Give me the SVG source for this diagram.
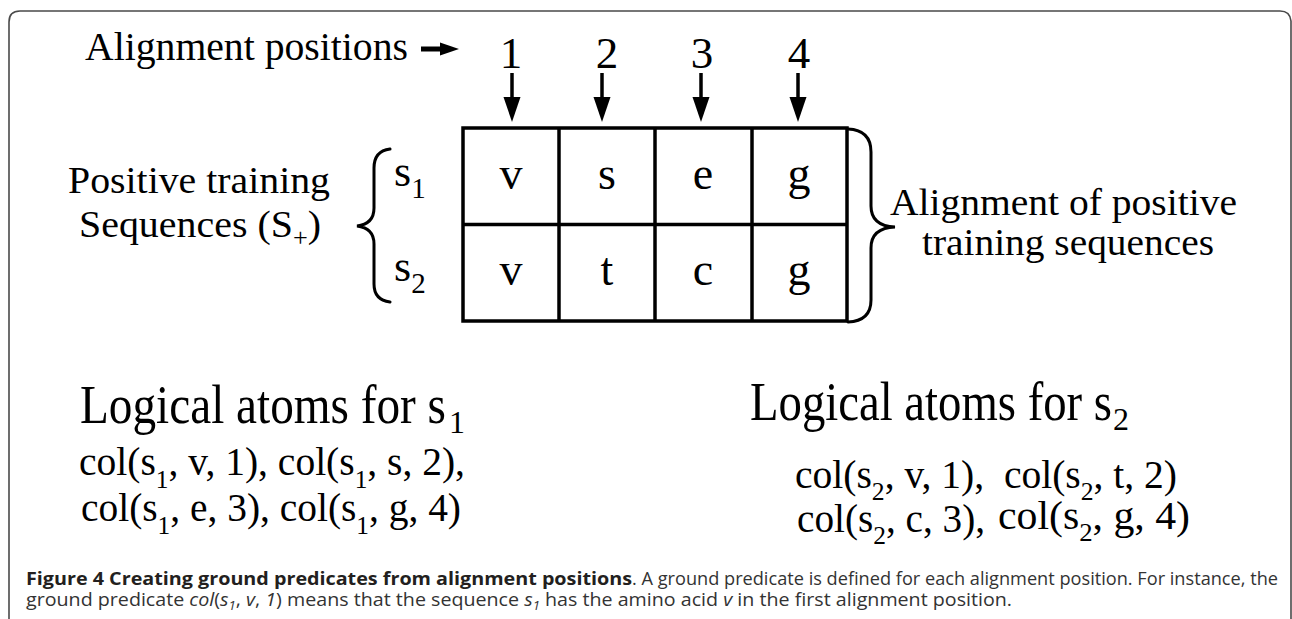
<svg xmlns="http://www.w3.org/2000/svg" width="1292" height="619" viewBox="0 0 1292 619">
<style>
.t{font-family:"Liberation Serif","Times New Roman",serif;fill:#000}
.c{font-family:"Open Sans","Liberation Sans",sans-serif;fill:#333}
.b{font-weight:bold;fill:#231f20}
.ln{stroke:#000;stroke-width:3.5;fill:none}
.br{stroke:#000;stroke-width:3;fill:none;stroke-linecap:round}
</style>
<rect width="1292" height="619" fill="#fff"/>
<path d="M9,619 L9,22 Q9,11 20,11 L1280,11 Q1290,11 1291,21 L1291,619" fill="none" stroke="#4a4a4a" stroke-width="1.6"/>

<g id="title">
<text class="t" x="85" y="60" font-size="40" textLength="323" lengthAdjust="spacingAndGlyphs">Alignment positions</text>
</g>
<g id="positions" class="t" font-size="45" text-anchor="middle">
<text x="511" y="68">1</text>
<text x="607" y="68">2</text>
<text x="702" y="68">3</text>
<text x="799" y="68">4</text>
</g>

<g id="grid">
<rect x="463" y="128" width="384" height="193" class="ln"/>
<line x1="559" y1="128" x2="559" y2="321" class="ln"/>
<line x1="655" y1="128" x2="655" y2="321" class="ln"/>
<line x1="752" y1="128" x2="752" y2="321" class="ln"/>
<line x1="463" y1="224.5" x2="847" y2="224.5" class="ln"/>
<g class="t" font-size="46" text-anchor="middle">
<text x="511" y="189">v</text>
<text x="607" y="189">s</text>
<text x="703" y="189">e</text>
<text x="799" y="189">g</text>
<text x="511" y="285">v</text>
<text x="607" y="285">t</text>
<text x="703" y="285">c</text>
<text x="799" y="285">g</text>
</g>
</g>

<g id="sequences">
<text class="t" x="68" y="193" font-size="38" textLength="262" lengthAdjust="spacingAndGlyphs">Positive training</text>
<text class="t" x="79" y="237" font-size="38" textLength="242" lengthAdjust="spacingAndGlyphs">Sequences (S<tspan font-size="25" dy="9">+</tspan><tspan dy="-9">)</tspan></text>
<path class="br" d="M390,149 Q374,151 374,168 L374,208 Q374,224 357,226 Q374,228 374,244 L374,284 Q374,300 390,302"/>
<text class="t" x="394" y="186" font-size="44">s<tspan font-size="29" dy="12">1</tspan></text>
<text class="t" x="394" y="281" font-size="44">s<tspan font-size="29" dy="12">2</tspan></text>
</g>

<g id="alignment">
<path class="br" d="M848,129 Q871,130 871,152 L871,206 Q871,226 895,227 Q871,228 871,248 L871,300 Q871,321 848,322"/>
<text class="t" x="890" y="215" font-size="38" textLength="347" lengthAdjust="spacingAndGlyphs">Alignment of positive</text>
<text class="t" x="922" y="255" font-size="38" textLength="292" lengthAdjust="spacingAndGlyphs">training sequences</text>
</g>

<g id="atoms-s1">
<text class="t" x="80" y="423" font-size="54" textLength="366" lengthAdjust="spacingAndGlyphs">Logical atoms for s</text>
<text class="t" x="449" y="433" font-size="32">1</text>
<text class="t" x="79" y="475" font-size="39" textLength="386" lengthAdjust="spacingAndGlyphs">col(s<tspan font-size="25" dy="13">1</tspan><tspan dy="-13">, v, 1), col(s</tspan><tspan font-size="25" dy="13">1</tspan><tspan dy="-13">, s, 2),</tspan></text>
<text class="t" x="81" y="521" font-size="39" textLength="380" lengthAdjust="spacingAndGlyphs">col(s<tspan font-size="25" dy="13">1</tspan><tspan dy="-13">, e, 3), col(s</tspan><tspan font-size="25" dy="13">1</tspan><tspan dy="-13">, g, 4)</tspan></text>
</g>

<g id="atoms-s2">
<text class="t" x="750" y="420" font-size="54" textLength="362" lengthAdjust="spacingAndGlyphs">Logical atoms for s</text>
<text class="t" x="1113" y="430" font-size="32">2</text>
<text class="t" x="795" y="488" font-size="40" textLength="382" lengthAdjust="spacingAndGlyphs" xml:space="preserve">col(s<tspan font-size="26" dy="12">2</tspan><tspan dy="-12">, v, 1),  col(s</tspan><tspan font-size="26" dy="12">2</tspan><tspan dy="-12">, t, 2)</tspan></text>
<text class="t" x="797" y="532" font-size="40" textLength="188" lengthAdjust="spacingAndGlyphs">col(s<tspan font-size="26" dy="12">2</tspan><tspan dy="-12">, c, 3),</tspan></text>
<text class="t" x="998" y="529" font-size="40.5" textLength="192" lengthAdjust="spacingAndGlyphs">col(s<tspan font-size="26" dy="12">2</tspan><tspan dy="-12">, g, 4)</tspan></text>
</g>

<g id="connectors">
<line x1="421" y1="49" x2="443" y2="49" stroke="#000" stroke-width="5"/>
<polygon points="440,42.5 459,49 440,55.5" fill="#000"/>
<g stroke="#000" stroke-width="3.5">
<line x1="512" y1="73" x2="512" y2="100"/>
<line x1="602" y1="73" x2="602" y2="100"/>
<line x1="701" y1="73" x2="701" y2="100"/>
<line x1="798" y1="73" x2="798" y2="100"/>
</g>
<g fill="#000">
<polygon points="503.5,97 520.5,97 512,122"/>
<polygon points="593.5,97 610.5,97 602,122"/>
<polygon points="692.5,97 709.5,97 701,122"/>
<polygon points="789.5,97 806.5,97 798,122"/>
</g>
</g>

<g id="caption">
<text class="c b" x="26" y="585" font-size="18" textLength="606" lengthAdjust="spacingAndGlyphs">Figure 4 Creating ground predicates from alignment positions</text>
<text class="c" x="632" y="585" font-size="18" textLength="646" lengthAdjust="spacingAndGlyphs">. A ground predicate is defined for each alignment position. For instance, the</text>
<text class="c" x="26" y="606" font-size="18" textLength="986" lengthAdjust="spacingAndGlyphs">ground predicate <tspan font-style="italic">col</tspan>(<tspan font-style="italic">s</tspan><tspan font-style="italic" font-size="12" dy="4">1</tspan><tspan dy="-4">, </tspan><tspan font-style="italic">v</tspan>, <tspan font-style="italic">1</tspan>) means that the sequence <tspan font-style="italic">s</tspan><tspan font-style="italic" font-size="12" dy="4">1</tspan><tspan dy="-4"> has the amino acid </tspan><tspan font-style="italic">v</tspan> in the first alignment position.</text>
</g>
</svg>
